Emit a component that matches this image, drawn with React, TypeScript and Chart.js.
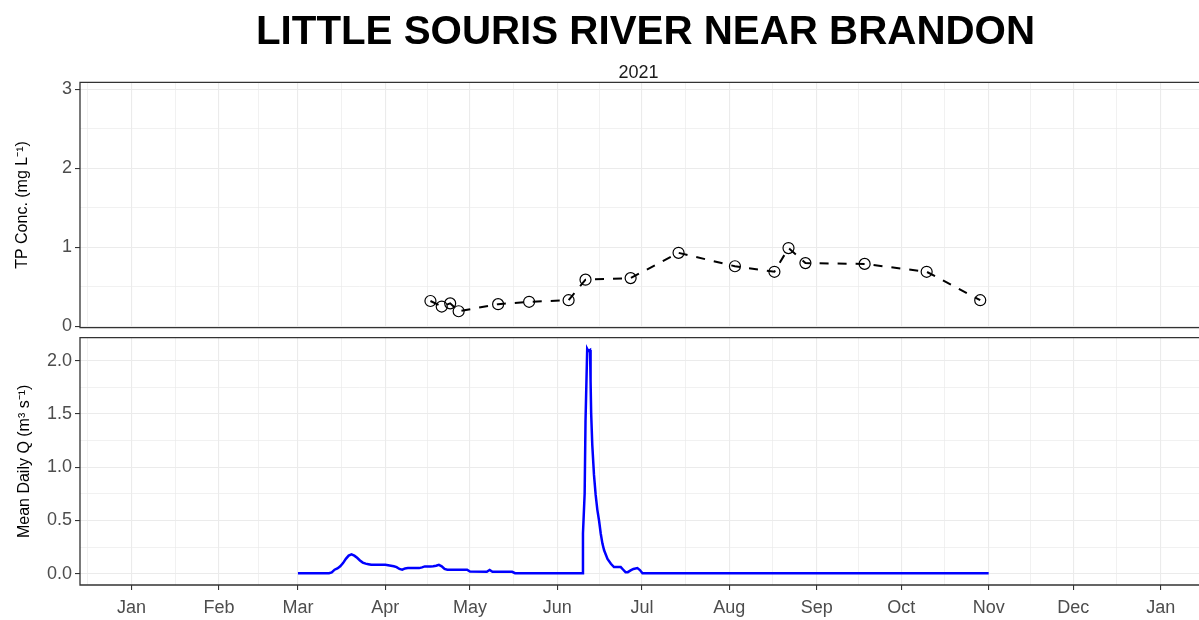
import React, { useEffect, useRef } from 'react';
import { Chart, registerables } from 'chart.js';

Chart.register(...registerables);

// ---------- text ----------
const TITLE = 'LITTLE SOURIS RIVER NEAR BRANDON';
const SUBTITLE = '2021';
const TP_AXIS_TITLE = 'TP Conc. (mg L⁻¹)';
const Q_AXIS_TITLE = 'Mean Daily Q (m³ s⁻¹)';

// ---------- x axis (months) ----------
const monthStarts = [
  '2020-12-01', '2021-01-01', '2021-02-01', '2021-03-01', '2021-04-01', '2021-05-01',
  '2021-06-01', '2021-07-01', '2021-08-01', '2021-09-01', '2021-10-01', '2021-11-01',
  '2021-12-01', '2022-01-01', '2022-02-01',
];
const monthLabels = ['Dec', 'Jan', 'Feb', 'Mar', 'Apr', 'May', 'Jun', 'Jul', 'Aug', 'Sep', 'Oct', 'Nov', 'Dec', 'Jan', 'Feb'];

// ---------- TP concentration samples ----------
const tpDates = [
  '2021-04-17', '2021-04-21', '2021-04-24', '2021-04-27', '2021-05-11', '2021-05-22',
  '2021-06-05', '2021-06-11', '2021-06-27', '2021-07-14', '2021-08-03', '2021-08-17',
  '2021-08-22', '2021-08-28', '2021-09-18', '2021-10-10', '2021-10-29',
];
const tpValues = [
  0.32, 0.25, 0.29, 0.19, 0.28, 0.31,
  0.33, 0.59, 0.61, 0.93, 0.76, 0.69,
  0.99, 0.8, 0.79, 0.69, 0.33,
];

// ---------- mean daily flow (days since 2021-01-01) ----------
const flowDays = [
  59, 70,
  71, 72, 73, 74, 75, 76, 77, 78, 79, 80, 81, 82, 83, 84, 85,
  90, 91, 92, 93, 94, 95, 96, 97, 98, 99, 100, 101, 102, 103, 104, 105, 106, 107, 108, 109, 110, 111, 112,
  119, 120, 126, 127, 128, 135, 136, 160,
  160.1, 160.7, 161.0, 161.6, 162.0, 162.6, 162.8, 163.0, 163.4, 164.0, 164.6, 165.2, 165.8, 166.4, 167.0,
  167.6, 168.8, 170.0, 171.1, 173.5, 174.3, 175.2, 176, 177.0, 178, 179.4, 180.3, 181.2, 304,
];
const flowValues = [
  0.005, 0.005,
  0.012, 0.038, 0.05, 0.07, 0.1, 0.14, 0.17, 0.182, 0.17, 0.15, 0.125, 0.105, 0.095, 0.09, 0.084,
  0.084, 0.08, 0.075, 0.07, 0.062, 0.045, 0.038, 0.05, 0.053, 0.053, 0.055, 0.053, 0.053, 0.06, 0.069, 0.069, 0.069, 0.07, 0.075, 0.084, 0.07, 0.045, 0.038,
  0.038, 0.02, 0.018, 0.035, 0.018, 0.018, 0.005, 0.005,
  0.378, 0.756, 1.43, 2.11, 2.09, 2.1, 1.81, 1.51, 1.21, 0.93, 0.74, 0.6, 0.5, 0.378, 0.283,
  0.22, 0.14, 0.094, 0.063, 0.063, 0.04, 0.015, 0.015, 0.031, 0.045, 0.053, 0.035, 0.005, 0.005,
];

// ---------- y ticks ----------
const tpMajorTicks = [0, 1, 2, 3];
const tpMinorTicks = [0.5, 1.5, 2.5];
const qMajorTicks = [0, 0.5, 1, 1.5, 2];
const qMinorTicks = [0.25, 0.75, 1.25, 1.75];

// ---------- helpers ----------
const BASE = Date.UTC(2021, 0, 1);
function dayOf(s: string): number {
  const [y, m, d] = s.split('-').map(Number);
  return (Date.UTC(y, m - 1, d) - BASE) / 86400000;
}

const X_MIN = -18.3;
const X_MAX = 378.6;
const FONT = '"Liberation Sans", Arial, sans-serif';
const TICK_COLOR = '#4d4d4d';
const GRID = '#ebebeb';
const DARK = '#333333';

const monthDays = monthStarts.map(dayOf);
const xMajor = monthDays
  .map((v, i) => ({ value: v, label: monthLabels[i], minor: false }))
  .filter((t) => t.value >= X_MIN && t.value <= X_MAX);
const xMinor = monthDays
  .slice(0, -1)
  .map((v, i) => ({ value: (v + monthDays[i + 1]) / 2, label: '', minor: true }))
  .filter((t) => t.value >= X_MIN && t.value <= X_MAX);
const xTicks = [...xMajor, ...xMinor].sort((a, b) => a.value - b.value);
const xLabelMap = new Map<number, string>(xTicks.map((t) => [t.value, t.label]));

function yTickList(major: number[], minor: number[]) {
  return [
    ...major.map((v) => ({ value: v, minor: false })),
    ...minor.map((v) => ({ value: v, minor: true })),
  ].sort((a, b) => a.value - b.value);
}

const gridColor = () => GRID;
const gridWidth = (ctx: any) => (ctx.tick && ctx.tick.minor ? 0.7 : 1.1);
const tickColor = (ctx: any) => (ctx.tick && ctx.tick.minor ? 'rgba(0,0,0,0)' : DARK);

const zeroPad = (scale: any) => {
  scale.paddingLeft = 0;
  scale.paddingRight = 0;
  scale.paddingTop = 0;
  scale.paddingBottom = 0;
};

const borderPlugin = {
  id: 'panelBorder',
  afterDatasetsDraw(chart: any) {
    const { ctx, chartArea } = chart;
    const { left, top, right, bottom } = chartArea;
    ctx.save();
    ctx.strokeStyle = DARK;
    ctx.lineWidth = 1.3;
    ctx.beginPath();
    ctx.moveTo(right + 2, top);
    ctx.lineTo(left, top);
    ctx.lineTo(left, bottom);
    ctx.lineTo(right + 2, bottom);
    ctx.stroke();
    ctx.restore();
  },
};

const titlePlugin = {
  id: 'plotTitle',
  afterDraw(chart: any) {
    const ctx = chart.ctx;
    ctx.save();
    ctx.fillStyle = '#000';
    ctx.textAlign = 'center';
    ctx.textBaseline = 'alphabetic';
    ctx.font = `bold 40.3px ${FONT}`;
    ctx.fillText(TITLE, 645.5, 43.5);
    ctx.fillStyle = '#1a1a1a';
    ctx.font = `18px ${FONT}`;
    ctx.fillText(SUBTITLE, 638.5, 78);
    ctx.restore();
  },
};

function xScale(showLabels: boolean) {
  return {
    type: 'linear' as const,
    min: X_MIN,
    max: X_MAX,
    afterBuildTicks: (scale: any) => {
      scale.ticks = xTicks.map((t) => ({ value: t.value, minor: t.minor }));
    },
    afterFit: (scale: any) => {
      scale.height = showLabels ? 35 : 0;
      zeroPad(scale);
    },
    ticks: {
      display: showLabels,
      autoSkip: false,
      maxRotation: 0,
      minRotation: 0,
      padding: 7,
      color: TICK_COLOR,
      font: { size: 18, family: FONT },
      callback: (v: any) => xLabelMap.get(Number(v)) ?? '',
    },
    grid: {
      color: gridColor,
      lineWidth: gridWidth,
      drawTicks: showLabels,
      tickLength: 5,
      tickColor: tickColor,
      tickWidth: 1.1,
    },
    border: { display: false },
  };
}

function yScale(min: number, max: number, major: number[], minor: number[], title: string, titlePad: number, digits: number) {
  const list = yTickList(major, minor);
  return {
    type: 'linear' as const,
    position: 'left' as const,
    min,
    max,
    afterBuildTicks: (scale: any) => {
      scale.ticks = list.map((t) => ({ value: t.value, minor: t.minor }));
    },
    afterFit: (scale: any) => {
      scale.width = 80;
      zeroPad(scale);
    },
    ticks: {
      autoSkip: false,
      padding: 3,
      color: TICK_COLOR,
      font: { size: 18, family: FONT },
      callback: (v: any) => {
        const n = Number(v);
        return major.some((m) => Math.abs(m - n) < 1e-9) ? n.toFixed(digits) : '';
      },
    },
    grid: {
      color: gridColor,
      lineWidth: gridWidth,
      drawTicks: true,
      tickLength: 5,
      tickColor: tickColor,
      tickWidth: 1.1,
    },
    border: { display: false },
    title: {
      display: true,
      text: title,
      color: '#000',
      font: { size: 16, family: FONT },
      padding: { top: titlePad, bottom: 0 },
    },
  };
}

export default function App() {
  const topRef = useRef<HTMLCanvasElement>(null);
  const botRef = useRef<HTMLCanvasElement>(null);

  useEffect(() => {
    const tpData = tpDates.map((d, i) => ({ x: dayOf(d), y: tpValues[i] }));
    const flowData = flowDays.map((d, i) => ({ x: d, y: flowValues[i] }));

    const top = new Chart(topRef.current as HTMLCanvasElement, {
      type: 'line',
      data: {
        datasets: [
          {
            data: tpData,
            borderColor: '#000',
            borderWidth: 2,
            borderDash: [9, 9],
            pointRadius: 5.5,
            pointHoverRadius: 5.5,
            pointBorderWidth: 1.2,
            pointBorderColor: '#000',
            pointBackgroundColor: 'rgba(0,0,0,0)',
            tension: 0,
            fill: false,
          },
        ],
      },
      options: {
        responsive: false,
        maintainAspectRatio: false,
        animation: false,
        devicePixelRatio: 1,
        events: [],
        layout: { autoPadding: false, padding: { top: 82.3, left: 0, right: 0, bottom: 332 - 327.7 } },
        plugins: { legend: { display: false }, tooltip: { enabled: false } },
        scales: {
          x: xScale(false),
          y: yScale(-0.018, 3.089, tpMajorTicks, tpMinorTicks, TP_AXIS_TITLE, 13, 0),
        },
      } as any,
      plugins: [borderPlugin, titlePlugin],
    });

    const bottom = new Chart(botRef.current as HTMLCanvasElement, {
      type: 'line',
      data: {
        datasets: [
          {
            data: flowData,
            borderColor: '#0000ff',
            borderWidth: 2.5,
            pointRadius: 0,
            pointHoverRadius: 0,
            tension: 0,
            fill: false,
          },
        ],
      },
      options: {
        responsive: false,
        maintainAspectRatio: false,
        animation: false,
        devicePixelRatio: 1,
        events: [],
        layout: { autoPadding: false, padding: { top: 337.7 - 332, left: 0, right: 0, bottom: 0 } },
        plugins: { legend: { display: false }, tooltip: { enabled: false } },
        scales: {
          x: xScale(true),
          y: yScale(-0.1055, 2.2155, qMajorTicks, qMinorTicks, Q_AXIS_TITLE, 15, 1),
        },
      } as any,
      plugins: [borderPlugin],
    });

    return () => {
      top.destroy();
      bottom.destroy();
    };
  }, []);

  return (
    <div style={{ position: 'absolute', left: 0, top: 0, width: 1199, height: 620, background: '#fff', overflow: 'hidden' }}>
      <canvas
        ref={topRef}
        width={1199}
        height={332}
        style={{ position: 'absolute', left: 0, top: 0, width: 1199, height: 332 }}
      />
      <canvas
        ref={botRef}
        width={1199}
        height={288}
        style={{ position: 'absolute', left: 0, top: 332, width: 1199, height: 288 }}
      />
    </div>
  );
}
